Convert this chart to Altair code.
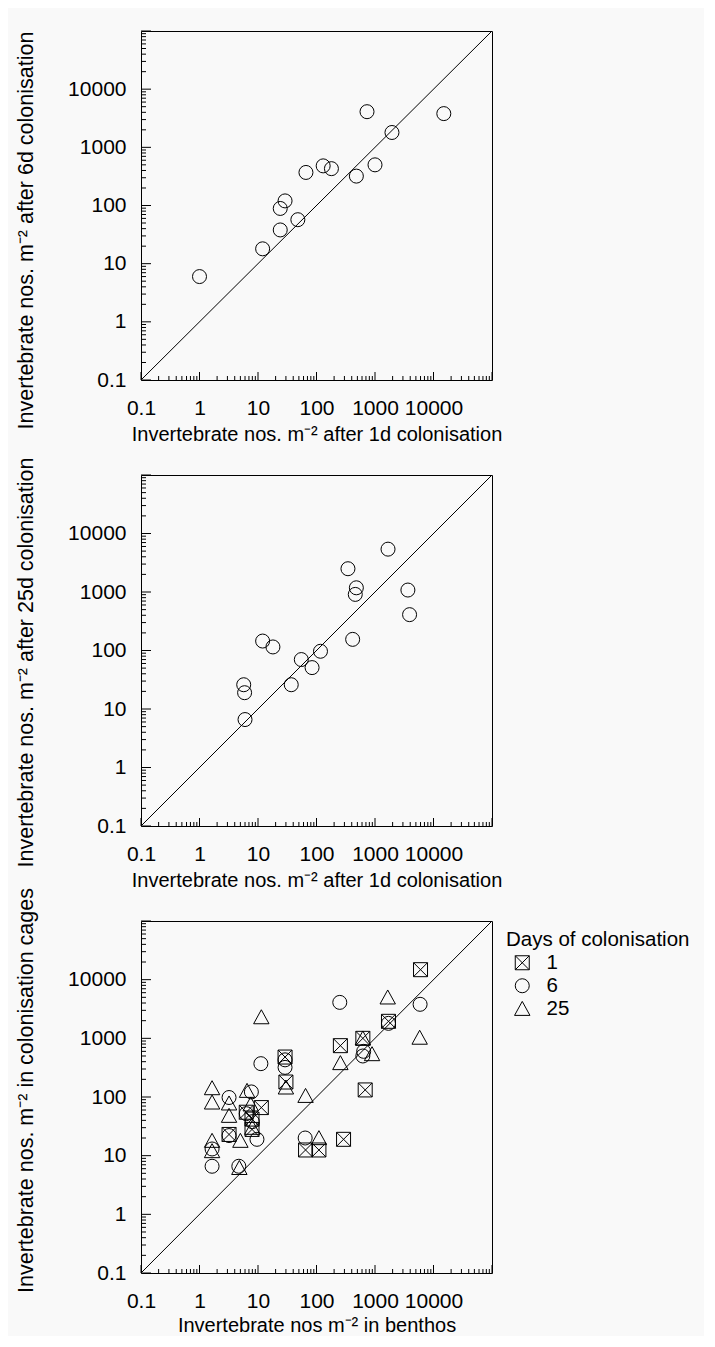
import altair as alt
import pandas as pd

FONT = "Liberation Sans"
BG = "#f9f9f9"

# ---------------- data ----------------
# Panel 1: 1d vs 6d colonisation
p1_day1 = [1, 12, 24, 24, 29, 48, 66, 130, 180, 480, 730, 1000, 1950, 15000]
p1_day6 = [6, 18, 38, 89, 120, 57, 370, 480, 430, 320, 4100, 500, 1800, 3800]

# Panel 2: 1d vs 25d colonisation
p2_day1 = [5.7, 5.9, 6, 12, 18, 37, 55, 84, 117, 345, 480, 460, 415, 1670, 3650, 3900]
p2_day25 = [26, 19, 6.6, 145, 115, 26, 70, 51, 97, 2500, 1180, 910, 155, 5400, 1080, 410]

# Panel 3: benthos vs cages
p3_benthos_d1 = [6000, 1700, 620, 256, 29, 30, 680, 11.4, 6.3, 7.9, 7.9, 3.2, 65, 110, 290]
p3_cage_d1 = [14800, 1950, 1000, 750, 480, 180, 132, 66, 55, 42, 28, 23, 12.5, 12.5, 19]

p3_benthos_d6 = [250, 5900, 1700, 620, 640, 11.2, 29, 29, 7.7, 3.2, 6.3, 8, 3.2, 9.6, 64, 1.64, 1.64, 4.7]
p3_cage_d6 = [4100, 3800, 1800, 500, 600, 370, 430, 320, 122, 98, 52, 38, 22, 19, 20, 13, 6.6, 6.6]

p3_benthos_d25 = [1650, 5800, 620, 890, 256, 30, 11.4, 65, 1.64, 1.64, 3.2, 3.2, 6.5, 7.5, 8, 5, 1.64, 1.64, 4.8, 110]
p3_cage_d25 = [5000, 1030, 1000, 540, 380, 146, 2300, 105, 142, 81, 78, 48, 128, 75, 30, 18, 18, 12, 6.2, 20]

days_labels = ["1", "6", "25"]

axis_domain = [0.1, 100000]
label_ticks = [0.1, 1, 10, 100, 1000, 10000]
major_ticks = [0.1, 1, 10, 100, 1000, 10000, 100000]
minor_ticks = [m * 10.0 ** e for e in range(-1, 5) for m in range(2, 10)]
diag_vals = [0.1, 100000]

SQUARE_X = "M-1,-1H1V1H-1ZM-1,-1L1,1M-1,1L1,-1"
TRIANGLE = "M0,-1.05L1.1,0.95L-1.1,0.95Z"
SYM_SIZE = 196


def panel(points, shape_enc, xtitle, ytitle, w, h, ytitle_y, xtitle_y=60):
    xs = alt.Scale(type="log", domain=axis_domain, nice=False)
    ys = alt.Scale(type="log", domain=axis_domain, nice=False)
    xaxis = alt.Axis(values=label_ticks, format="~g", title=xtitle, ticks=False,
                     domain=False, grid=False, labelFlush=False, labelOverlap=False,
                     labelBaseline="alphabetic", labelPadding=34,
                     titleBaseline="alphabetic", titleY=xtitle_y, titleFontSize=20)
    yaxis = alt.Axis(values=label_ticks, format="~g", title=ytitle, ticks=False,
                     domain=False, grid=False, labelFlush=False, labelOverlap=False,
                     labelPadding=15, titleAngle=270, titleBaseline="alphabetic",
                     titleX=-109, titleY=ytitle_y, titleFontSize=21.5)

    pts = alt.Chart(points).mark_point(filled=False, size=SYM_SIZE, strokeWidth=1,
                                      color="black", opacity=1).encode(
        x=alt.X("x:Q", scale=xs, axis=xaxis),
        y=alt.Y("y:Q", scale=ys, axis=yaxis),
        shape=shape_enc,
    )

    diag = alt.Chart(pd.DataFrame({"x": diag_vals, "y": diag_vals})).mark_line(
        color="black", strokeWidth=1).encode(
        x=alt.X("x:Q", scale=xs, axis=xaxis),
        y=alt.Y("y:Q", scale=ys, axis=yaxis),
    )

    maj = pd.DataFrame({"t": major_ticks})
    mnr = pd.DataFrame({"t": minor_ticks})
    xmaj = alt.Chart(maj).mark_rule(color="black", strokeWidth=1).encode(
        x=alt.X("t:Q", scale=xs, axis=xaxis), y=alt.value(h), y2=alt.value(h - 8))
    xmin = alt.Chart(mnr).mark_rule(color="black", strokeWidth=1).encode(
        x=alt.X("t:Q", scale=xs, axis=xaxis), y=alt.value(h), y2=alt.value(h - 4))
    ymaj = alt.Chart(maj).mark_rule(color="black", strokeWidth=1).encode(
        y=alt.Y("t:Q", scale=ys, axis=yaxis), x=alt.value(0), x2=alt.value(10))
    ymin = alt.Chart(mnr).mark_rule(color="black", strokeWidth=1).encode(
        y=alt.Y("t:Q", scale=ys, axis=yaxis), x=alt.value(0), x2=alt.value(5))

    return alt.layer(pts, diag, xmaj, xmin, ymaj, ymin).properties(width=w, height=h)


circle_only = alt.value("circle")

df1 = pd.DataFrame({"x": p1_day1, "y": p1_day6})
df2 = pd.DataFrame({"x": p2_day1, "y": p2_day25})

rows = []
for day, xs_, ys_ in [("1", p3_benthos_d1, p3_cage_d1),
                      ("6", p3_benthos_d6, p3_cage_d6),
                      ("25", p3_benthos_d25, p3_cage_d25)]:
    for a, b in zip(xs_, ys_):
        rows.append({"x": a, "y": b, "day": day})
df3 = pd.DataFrame(rows)

shape3 = alt.Shape(
    "day:N",
    scale=alt.Scale(domain=days_labels, range=[SQUARE_X, "circle", TRIANGLE]),
    sort=days_labels,
    legend=alt.Legend(title="Days of colonisation", orient="none", legendX=365, legendY=899,
                      titleFontSize=20.5, labelFontSize=20.5, titleFontWeight="normal",
                      titleLimit=0, labelLimit=0,
                      symbolSize=SYM_SIZE, symbolStrokeWidth=1, symbolStrokeColor="black",
                      symbolFillColor="transparent", symbolOffset=6, labelOffset=14,
                      rowPadding=2, titlePadding=2, padding=0),
)

c1 = panel(df1, circle_only,
           "Invertebrate nos. m\u207b\u00b2 after 1d colonisation",
           "Invertebrate nos. m\u207b\u00b2 after 6d colonisation", 351, 349, 199)
c2 = panel(df2, circle_only,
           "Invertebrate nos. m\u207b\u00b2 after 1d colonisation",
           "Invertebrate nos. m\u207b\u00b2 after 25d colonisation", 351, 351, 187)
c3 = panel(df3, shape3,
           "Invertebrate nos m\u207b\u00b2 in benthos",
           "Invertebrate nos. m\u207b\u00b2 in colonisation cages", 351, 352, 169, 58)

chart = alt.vconcat(c1, c2, c3, spacing=95, bounds="flush").properties(
    padding={"top": 20, "left": 6, "right": 14, "bottom": 0},
    background=BG,
).configure_view(
    stroke="black", strokeWidth=1, fill=BG
).configure_axis(
    labelFont=FONT, titleFont=FONT, labelFontSize=21, labelColor="black",
    titleColor="black", titleFontWeight="normal"
).configure_legend(
    labelFont=FONT, titleFont=FONT, labelColor="black", titleColor="black"
)

chart.save("out.html", embed_options={"renderer": "svg", "actions": False})
